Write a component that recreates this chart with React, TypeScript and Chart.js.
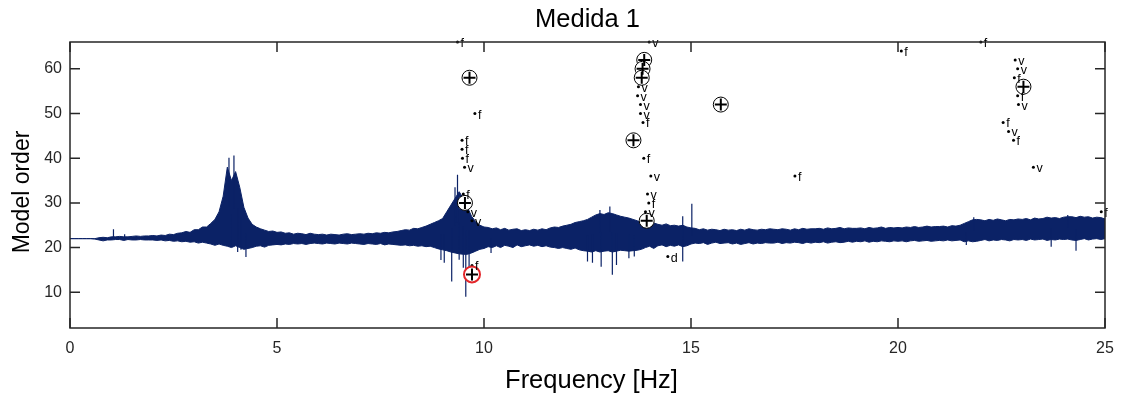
import React, { useEffect, useRef } from 'react';
import { Chart, registerables } from 'chart.js';

Chart.register(...registerables);

const chartTitle = 'Medida 1';
const xLabel = 'Frequency [Hz]';
const yLabel = 'Model order';
const xTicks = [0, 5, 10, 15, 20, 25];
const yTicks = [10, 20, 30, 40, 50, 60];
const xMin = 0;
const xMax = 25;
const yMin = 2;
const yMax = 66;

// Spectrum (scaled onto the model-order axis): dense band, upper/lower edge every 0.1 Hz
const bandStep = 0.1;
const bandHi = [
  22.0, 22.0, 22.0, 22.0, 22.0, 22.0, 22.0, 22.2, 22.3, 22.2,
  22.4, 22.4, 22.5, 22.4, 22.4, 22.5, 22.6, 22.5, 22.6, 22.6,
  22.7, 22.6, 22.8, 22.7, 23.0, 22.9, 23.2, 23.3, 23.6, 23.4,
  24.0, 24.0, 24.6, 24.6, 25.4, 26.3, 28.0, 31.5, 38.0, 35.0,
  37.0, 33.5, 29.0, 26.6, 25.2, 24.6, 24.2, 23.9, 23.6, 23.7,
  23.4, 23.5, 23.2, 23.3, 23.0, 23.2, 23.1, 22.9, 23.2, 23.0,
  22.9, 23.0, 22.8, 23.0, 22.9, 22.8, 23.0, 23.1, 22.9, 23.0,
  23.1, 23.0, 23.2, 23.1, 23.3, 23.2, 23.4, 23.3, 23.5, 23.6,
  23.8, 24.0, 23.9, 24.3, 24.2, 24.5, 24.8, 25.2, 25.6, 26.0,
  26.5, 28.0, 29.5, 31.0, 32.5, 31.0, 29.0, 27.0, 25.8, 25.0,
  24.6, 24.5, 24.2, 24.4, 24.0, 24.3, 23.9, 24.1, 24.2, 23.8,
  24.0, 23.8, 24.1, 23.9, 24.2, 24.0, 24.4, 24.6, 24.5, 24.8,
  25.0, 25.2, 25.6, 25.8, 26.0, 26.3, 26.8, 27.3, 27.6, 27.4,
  27.8, 27.6, 27.3, 27.0, 26.8, 26.6, 26.3, 26.0, 25.6, 25.8,
  25.4, 25.5, 25.2, 25.0, 25.3, 24.9, 25.0, 24.8, 25.0, 24.6,
  24.4, 24.3, 24.0, 24.2, 23.9, 24.1, 24.0, 23.8, 24.1, 23.9,
  24.0, 23.8, 24.1, 23.9, 24.2, 24.0, 23.9, 24.1, 24.0, 24.2,
  24.1, 24.0, 24.2, 24.1, 23.9, 24.2, 24.0, 24.3, 24.1, 24.2,
  24.2, 24.3, 24.1, 24.4, 24.2, 24.3, 24.5, 24.2, 24.4, 24.3,
  24.3, 24.4, 24.2, 24.5, 24.3, 24.4, 24.6, 24.3, 24.5, 24.4,
  24.5, 24.4, 24.6, 24.5, 24.7, 24.5, 24.6, 24.8, 24.6, 24.7,
  24.7, 24.8, 24.6, 24.9, 24.8, 25.0, 25.4, 25.8, 26.2, 26.3,
  26.2, 26.0, 26.3, 26.1, 26.4, 26.2, 26.0, 26.3, 26.2, 26.4,
  26.3, 26.5, 26.2, 26.6, 26.4, 26.5, 26.8, 26.6, 26.7, 26.5,
  26.8, 26.9, 26.9, 26.7, 27.0, 26.8, 26.9, 26.6, 26.8, 26.7,
  26.4,
];
const bandLo = [
  22.0, 22.0, 22.0, 22.0, 22.0, 22.0, 21.9, 21.7, 21.5, 21.7,
  21.7, 21.8, 21.8, 21.6, 21.8, 21.7, 21.7, 21.8, 21.7, 21.7,
  21.7, 21.6, 21.7, 21.5, 21.6, 21.4, 21.5, 21.3, 21.4, 21.2,
  21.3, 21.0, 21.2, 21.0, 20.8, 20.5, 20.8, 20.5, 20.3, 20.0,
  20.4, 20.0, 19.6, 19.8, 20.0, 20.3, 20.4, 20.1, 20.5, 20.6,
  20.7, 20.6, 20.8, 20.7, 20.9, 20.8, 20.9, 20.7, 20.9, 21.0,
  20.9, 20.8, 21.0, 20.9, 20.8, 21.0, 20.9, 20.8, 21.0, 20.9,
  20.8, 20.7, 20.9, 20.8, 20.7, 20.9, 20.6, 20.8, 20.7, 20.6,
  20.5, 20.6, 20.4, 20.5, 20.3, 20.4, 20.2, 20.3, 20.0, 19.7,
  19.5, 19.3, 19.0, 18.8, 18.6, 18.5, 18.5, 18.8, 19.2, 19.6,
  19.8, 20.2, 20.0, 20.4, 20.0, 20.5, 20.3, 20.0, 20.6, 20.2,
  20.4, 20.6, 20.3, 20.5, 20.2, 20.4, 20.1, 20.0, 19.8, 20.0,
  19.8, 19.6, 19.9, 19.5, 19.3, 19.2, 19.0, 19.3, 19.0, 19.2,
  19.3, 19.0, 19.2, 19.4, 19.3, 19.2, 19.3, 19.4, 19.6, 20.0,
  20.3, 19.8, 20.4, 20.6, 20.2, 20.5, 20.3, 20.6, 20.2, 20.4,
  20.8, 21.0, 20.9, 21.1, 20.7, 21.0, 21.2, 20.9, 21.0, 21.1,
  20.8, 21.0, 20.7, 20.9, 21.1, 20.8, 21.0, 20.9, 21.1, 21.0,
  21.0, 21.2, 20.9, 21.1, 21.0, 21.2, 21.1, 20.9, 21.2, 21.0,
  21.2, 21.1, 21.3, 21.0, 21.2, 21.3, 21.1, 21.2, 21.4, 21.2,
  21.4, 21.3, 21.5, 21.2, 21.4, 21.3, 21.5, 21.4, 21.3, 21.5,
  21.4, 21.5, 21.3, 21.5, 21.6, 21.4, 21.5, 21.6, 21.4, 21.5,
  21.6, 21.5, 21.7, 21.5, 21.6, 21.7, 21.3, 21.5, 21.3, 21.4,
  21.6, 21.8, 21.5, 21.7, 21.6, 21.8, 21.7, 21.5, 21.8, 21.7,
  21.8, 21.6, 21.9, 21.7, 21.8, 21.9, 21.6, 21.8, 21.7, 21.9,
  21.8, 21.9, 21.7, 21.6, 21.8, 22.0, 21.7, 21.9, 22.0, 21.8,
  22.0,
];
// Isolated spikes of the spectrum: frequency and tip value
const spikeFreq = [1.05, 1.32, 3.84, 3.96, 3.88, 4.05, 4.13, 4.25, 8.96, 9.04, 9.22, 9.3, 9.36, 9.4, 9.5, 9.56, 9.64, 10.17, 12.5, 12.62, 12.8, 12.83, 13.04, 13.1, 13.2, 13.5, 13.63, 14.8, 14.8, 15.02, 21.65, 21.83, 23.7, 24.1, 24.3];
const spikeTip = [24.1, 23.0, 40.1, 40.6, 20.3, 19.0, 19.5, 17.9, 17.2, 16.6, 12.4, 33.5, 36.3, 17.3, 15.5, 9.0, 15.0, 18.8, 16.9, 16.6, 28.4, 15.7, 29.2, 13.9, 16.1, 17.6, 18.0, 27.0, 16.9, 29.8, 20.6, 26.8, 20.2, 27.3, 19.3];

// Poles stable in everything (circle-plus markers)
const stableFreq = [9.65, 13.87, 13.83, 13.81, 13.61, 9.54, 13.93, 15.72, 23.03];
const stableOrder = [58, 62, 60, 58, 44, 30, 26, 52, 56];
// Selected pole (red circle)
const selectedFreq = [9.71];
const selectedOrder = [14];
// Stable in frequency ("f")
const fFreq = [9.36, 22.0, 20.08, 9.78, 9.47, 9.47, 9.48, 13.84, 13.86, 13.98, 9.5, 9.71, 17.51, 24.91, 22.81, 22.89, 22.54, 22.79];
const fOrder = [66, 66, 64, 50, 44, 42, 40, 48, 40, 30, 32, 16, 36, 28, 58, 54, 48, 44];
// Stable in frequency and mode shape ("v")
const vFreq = [13.99, 9.53, 13.73, 13.71, 13.78, 13.78, 14.03, 13.95, 13.9, 9.61, 9.71, 22.83, 22.89, 22.91, 22.67, 23.27];
const vOrder = [66, 38, 56, 54, 52, 50, 36, 32, 28, 28, 26, 62, 60, 52, 46, 38];
// Stable in frequency and damping ("d")
const dFreq = [14.44];
const dOrder = [18];

const FONT = '"Liberation Sans", Arial, Helvetica, sans-serif';
const AXIS_COLOR = '#262626';
const SPEC_COLOR = '#0b2266';

const toPoints = (xs: number[], ys: number[]) => xs.map((x, i) => ({ x, y: ys[i] }));

const framePlugin = {
  id: 'matlabFrame',
  afterDatasetsDraw(chart: any) {
    const { ctx, chartArea: a, scales } = chart;
    const x = scales.x;
    const y = scales.y;
    ctx.save();
    // letters beside the stability dots
    ctx.fillStyle = '#000';
    ctx.font = `12.5px ${FONT}`;
    ctx.textAlign = 'left';
    ctx.textBaseline = 'alphabetic';
    chart.data.datasets.forEach((ds: any, i: number) => {
      if (!ds.letter) return;
      const meta = chart.getDatasetMeta(i);
      meta.data.forEach((pt: any) => {
        ctx.fillText(ds.letter, pt.x + 3, pt.y + 5);
      });
    });
    // box with inward ticks
    ctx.strokeStyle = AXIS_COLOR;
    ctx.lineWidth = 1.5;
    ctx.strokeRect(a.left, a.top, a.right - a.left, a.bottom - a.top);
    const L = 10;
    ctx.beginPath();
    xTicks.forEach((v) => {
      const px = x.getPixelForValue(v);
      ctx.moveTo(px, a.bottom);
      ctx.lineTo(px, a.bottom - L);
      ctx.moveTo(px, a.top);
      ctx.lineTo(px, a.top + L);
    });
    yTicks.forEach((v) => {
      const py = y.getPixelForValue(v);
      ctx.moveTo(a.left, py);
      ctx.lineTo(a.left + L, py);
      ctx.moveTo(a.right, py);
      ctx.lineTo(a.right - L, py);
    });
    ctx.stroke();
    // axis titles
    ctx.fillStyle = '#000';
    ctx.textAlign = 'center';
    ctx.textBaseline = 'middle';
    ctx.font = `25.5px ${FONT}`;
    ctx.fillText(xLabel, (a.left + a.right) / 2 + 4, 381);
    ctx.translate(22.5, (a.top + a.bottom) / 2 + 7);
    ctx.rotate(-Math.PI / 2);
    ctx.font = `23px ${FONT}`;
    ctx.fillText(yLabel, 0, 0);
    ctx.restore();
  },
};

export default function App() {
  const canvasRef = useRef<HTMLCanvasElement | null>(null);

  useEffect(() => {
    document.body.style.margin = '0';
    const canvas = canvasRef.current;
    if (!canvas) return;

    const hiPoints = bandHi.map((v, i) => ({ x: i * bandStep, y: v }));
    const loPoints = bandLo.map((v, i) => ({ x: i * bandStep, y: v }));
    const spikePoints: { x: number; y: number | null }[] = [];
    spikeFreq.forEach((f, i) => {
      const k = Math.round(f / bandStep);
      const base = (bandHi[k] + bandLo[k]) / 2;
      spikePoints.push({ x: f, y: base });
      spikePoints.push({ x: f, y: spikeTip[i] });
      spikePoints.push({ x: f, y: null });
    });

    const dotStyle = {
      pointStyle: 'circle',
      pointRadius: 1.5,
      pointBorderWidth: 0,
      backgroundColor: '#000',
      borderColor: '#000',
      order: 4,
      clip: false,
    };

    const chart = new Chart(canvas, {
      type: 'scatter',
      data: {
        datasets: [
          {
            type: 'line',
            label: 'band-hi',
            data: hiPoints,
            showLine: true,
            fill: '+1',
            backgroundColor: SPEC_COLOR,
            borderColor: SPEC_COLOR,
            borderWidth: 1,
            pointRadius: 0,
            tension: 0,
            order: 10,
          } as any,
          {
            type: 'line',
            label: 'band-lo',
            data: loPoints,
            showLine: true,
            fill: false,
            borderColor: SPEC_COLOR,
            borderWidth: 1,
            pointRadius: 0,
            tension: 0,
            order: 11,
          } as any,
          {
            type: 'line',
            label: 'spikes',
            data: spikePoints,
            showLine: true,
            spanGaps: false,
            fill: false,
            borderColor: SPEC_COLOR,
            borderWidth: 1.2,
            pointRadius: 0,
            tension: 0,
            order: 9,
          } as any,
          {
            label: 'selected-cross',
            data: toPoints(selectedFreq, selectedOrder),
            pointStyle: 'cross',
            pointRadius: 6,
            pointBorderWidth: 2,
            borderColor: '#000',
            order: 0,
            clip: false,
          } as any,
          {
            label: 'selected',
            data: toPoints(selectedFreq, selectedOrder),
            pointStyle: 'circle',
            pointRadius: 8,
            pointBorderWidth: 2,
            borderColor: '#e3262a',
            backgroundColor: '#ffffff',
            order: 1,
            clip: false,
          } as any,
          {
            label: 'stable-cross',
            data: toPoints(stableFreq, stableOrder),
            pointStyle: 'cross',
            pointRadius: 6,
            pointBorderWidth: 2,
            borderColor: '#000',
            order: 2,
            clip: false,
          } as any,
          {
            label: 'stable',
            data: toPoints(stableFreq, stableOrder),
            pointStyle: 'circle',
            pointRadius: 7.5,
            pointBorderWidth: 1,
            borderColor: '#000',
            backgroundColor: '#ffffff',
            order: 3,
            clip: false,
          } as any,
          { label: 'f', letter: 'f', data: toPoints(fFreq, fOrder), ...dotStyle } as any,
          { label: 'v', letter: 'v', data: toPoints(vFreq, vOrder), ...dotStyle } as any,
          { label: 'd', letter: 'd', data: toPoints(dFreq, dOrder), ...dotStyle } as any,
        ],
      },
      options: {
        animation: false,
        responsive: false,
        devicePixelRatio: 1,
        events: [],
        layout: { padding: { left: 0, right: 16, top: 0, bottom: 0 } },
        plugins: {
          legend: { display: false },
          tooltip: { enabled: false },
          title: {
            display: true,
            fullSize: false,
            text: chartTitle,
            color: '#000',
            font: { family: FONT, size: 25.5, weight: 'normal' },
            padding: { top: 5, bottom: 6.4 },
          },
        },
        scales: {
          x: {
            type: 'linear',
            min: xMin,
            max: xMax,
            afterBuildTicks: (s: any) => {
              s.ticks = xTicks.map((v) => ({ value: v }));
            },
            afterFit: (s: any) => {
              s.height = 70;
              s.paddingLeft = 0;
              s.paddingRight = 0;
            },
            grid: { display: false, drawTicks: false },
            border: { display: false },
            ticks: {
              color: AXIS_COLOR,
              font: { family: FONT, size: 16 },
              padding: 11,
              maxRotation: 0,
              autoSkip: false,
            },
            title: { display: false },
          },
          y: {
            type: 'linear',
            min: yMin,
            max: yMax,
            afterBuildTicks: (s: any) => {
              s.ticks = yTicks.map((v) => ({ value: v }));
            },
            afterFit: (s: any) => {
              s.width = 70;
              s.paddingTop = 0;
              s.paddingBottom = 0;
            },
            grid: { display: false, drawTicks: false },
            border: { display: false },
            ticks: {
              color: AXIS_COLOR,
              font: { family: FONT, size: 16 },
              padding: 8,
              autoSkip: false,
            },
            title: { display: false },
          },
        },
      },
      plugins: [framePlugin],
    } as any);

    return () => {
      chart.destroy();
    };
  }, []);

  return (
    <div style={{ width: 1121, height: 398, background: '#fff' }}>
      <canvas ref={canvasRef} width={1121} height={398} style={{ display: 'block' }} />
    </div>
  );
}
